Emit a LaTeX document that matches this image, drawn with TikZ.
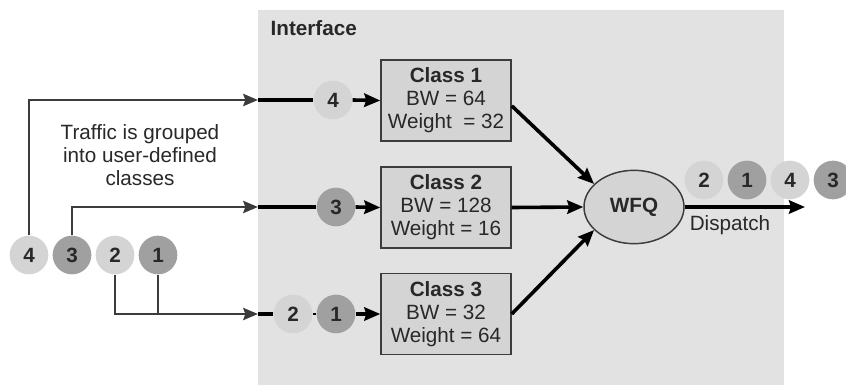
\documentclass[tikz,border=0pt]{standalone}
\usepackage{fontspec}
\setmainfont{Liberation Sans}
\usetikzlibrary{arrows.meta,shapes.geometric}

\definecolor{ifgray}{RGB}{226,226,226}
\definecolor{boxgray}{RGB}{212,212,212}
\definecolor{pktlight}{RGB}{212,212,212}
\definecolor{pktdark}{RGB}{160,160,160}
\definecolor{linegray}{RGB}{60,60,60}
\definecolor{textgray}{RGB}{40,40,40}

\tikzset{
  pkt/.style={circle, minimum size=29pt, inner sep=0pt, font=\fontsize{15.5}{17.25}\selectfont\bfseries},
  light/.style={pkt, fill=pktlight},
  dark/.style={pkt, fill=pktdark},
  classbox/.style={draw=linegray, line width=1.1pt, fill=boxgray, minimum width=97.5pt,
    minimum height=60.75pt, align=center, inner sep=1pt},
  outline/.style={draw=linegray, line width=2.2pt, -{Stealth[length=11pt,width=9pt,inset=1.5pt]}},
  inline/.style={draw=black, line width=2.7pt},
  inarrow/.style={inline, -{Stealth[length=12pt,width=10pt,inset=1.5pt]}}
}

\begin{document}
\begin{tikzpicture}[x=0.75pt,y=-0.75pt,
  font=\fontsize{15.5}{17.25}\selectfont, text=textgray]
\useasboundingbox (0,0) rectangle (846,385);

% interface area
\fill[ifgray] (258,10) rectangle (784,385);
\node[anchor=west, font=\fontsize{15.5}{17.25}\selectfont\bfseries] (iface) at (266,28) {Interface};

% incoming packets
\node[light] (l4) at (29,255) {4};
\node[dark]  (l3) at (72,255) {3};
\node[light] (l2) at (115,255) {2};
\node[dark]  (l1) at (158,255) {1};
\node[align=center] (note) at (140,155) {Traffic is grouped\\into user-defined\\classes};

\coordinate (in1) at (258,100);
\coordinate (in2) at (258,207);
\coordinate (in3) at (258,314);

\draw[outline] (l4.north) |- (in1);
\draw[outline] (l3.north) |- (in2);
\draw[outline] (l2.south) |- (in3);
\draw[draw=linegray, line width=2.2pt] (l1.south) -- (l1.south |- in3);

% classes
\node[classbox] (c1) at (446,100.5) {{\bfseries Class 1}\\BW = 64\\Weight\ \ = 32};
\node[classbox] (c2) at (446,207.5) {{\bfseries Class 2}\\BW = 128\\Weight = 16};
\node[classbox] (c3) at (446,314) {{\bfseries Class 3}\\BW = 32\\Weight = 64};

\node[light] (q4) at (333,100) {4};
\node[dark]  (q3) at (336,207) {3};
\node[light] (q2) at (293,314) {2};
\node[dark]  (q1) at (336,314) {1};

\draw[inline] (in1) -- (q4.west);
\draw[inarrow] (q4.east) -- (c1.west);
\draw[inline] (in2) -- (q3.west);
\draw[inarrow] (q3.east) -- (c2.west);
\draw[inline] (in3) -- (q2.west);
\draw[line width=1pt] (q2.east) -- (q1.west);
\draw[inarrow] (q1.east) -- (c3.west);

% scheduler
\node[ellipse, draw=linegray, line width=1.1pt, fill=boxgray, minimum width=75pt,
  minimum height=55pt, inner sep=0pt, font=\fontsize{15.5}{17.25}\selectfont\bfseries] (wfq) at (634,207) {WFQ};

\draw[inarrow] ([yshift=-4pt]c1.east) -- (wfq.150);
\draw[inarrow] (c2.east) -- (wfq.west);
\draw[inarrow] (c3.east) -- (wfq.210);

% output
\coordinate (out) at (805,207);
\draw[inarrow] (wfq.east) -- (out);
\node (disp) at (730,225) {Dispatch};

\node[light] (o2) at (704,180) {2};
\node[dark]  (o1) at (747,180) {1};
\node[light] (o4) at (790,180) {4};
\node[dark]  (o3) at (833,180) {3};
\end{tikzpicture}
\end{document}
